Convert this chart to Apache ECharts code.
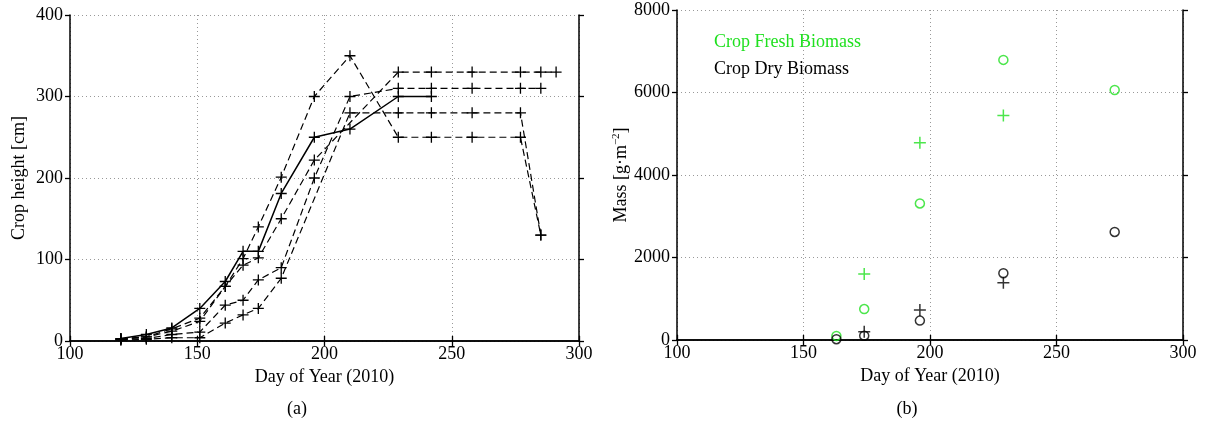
<!DOCTYPE html>
<html>
<head>
<meta charset="utf-8">
<script src="https://cdn.jsdelivr.net/npm/echarts@6/dist/echarts.min.js"></script>
<style>html,body{margin:0;padding:0;background:#fff;}#c{width:1216px;height:423px;}</style>
</head>
<body>
<div id="c"></div>
<script>
// ---- Panel (a): crop height [cm] vs day of year ----
const daysA = [120,130,140,151,161,168,174,183,196,210,229,242,258,277,285];
const hA    = [3,5,15,28,67,101,140,201,300,350,250,250,250,250,130];
const daysB = [120,130,140,151,161,168,174,183,196,210,229,242];
const hB    = [3,8,16,40,73,110,110,181,250,260,300,300];
const daysC = [120,130,140,151,161,168,174,183,196,229,242,258,277,285,291];
const hC    = [2,5,12,24,67,93,102,150,222,330,330,330,330,330,330];
const daysD = [120,130,140,151,161,168,174,183,196,210,229,242,258,277,285];
const hD    = [2,3,8,11,44,50,75,90,200,300,310,310,310,310,310];
const daysE = [120,130,140,151,161,168,174,183,210,229,242,258,277,285];
const hE    = [1,2,4,4,22,32,40,77,280,280,280,280,280,130];

// ---- Panel (b): biomass [g m-2] vs day of year ----
const freshObsDays = [163,174,196,229,273];
const freshObs     = [100,750,3310,6790,6060];
const freshSimDays = [174,196,229];
const freshSim     = [1600,4780,5440];
const dryObsDays   = [163,174,196,229,273];
const dryObs       = [20,105,470,1620,2620];
const drySimDays   = [174,196,229];
const drySim       = [200,730,1390];

const FONT = 'Liberation Serif';
const GREEN = '#1fe01f';
const pts = (xs, ys) => xs.map((x, i) => [x, ys[i]]);
const PLUS = 'path://M0,5L10,5M5,0L5,10';

const txt = {fontFamily: FONT, fontSize: 18, color: '#000'};
const axLine = {show: true, lineStyle: {color: '#000', width: 1.5}};
const tick = {show: true, inside: false, length: 5, lineStyle: {color: '#000', width: 1.3}};
const split = {show: true, lineStyle: {color: '#999', type: [1, 3], width: 1}};
const plain = v => String(v);

function xMain(grid, name) {
  return {type: 'value', gridIndex: grid, min: 100, max: 300, interval: 50, position: 'bottom',
    axisLine: axLine, axisTick: tick, splitLine: split,
    axisLabel: Object.assign({margin: 4, formatter: plain}, txt),
    name: name, nameLocation: 'middle', nameGap: 24, nameTextStyle: txt};
}
function xTop(grid) {
  return {type: 'value', gridIndex: grid, min: 100, max: 300, interval: 50, position: 'top',
    axisLine: axLine, axisTick: tick, splitLine: {show: false}, axisLabel: {show: false}};
}
function yMain(grid, max, interval, name, nameGap, rich) {
  return {type: 'value', gridIndex: grid, min: 0, max: max, interval: interval, position: 'left',
    axisLine: axLine, axisTick: tick, splitLine: split,
    axisLabel: Object.assign({margin: 7, formatter: plain}, txt),
    name: name, nameLocation: 'middle', nameGap: nameGap,
    nameTextStyle: Object.assign({rich: rich || {}}, txt)};
}
function yRight(grid, max, interval) {
  return {type: 'value', gridIndex: grid, min: 0, max: max, interval: interval, position: 'right',
    axisLine: axLine, axisTick: tick, splitLine: {show: false}, axisLabel: {show: false}};
}

function heightLine(xs, ys, solid) {
  return {type: 'line', xAxisIndex: 0, yAxisIndex: 0, data: pts(xs, ys),
    symbol: PLUS, symbolSize: 11, showSymbol: true,
    itemStyle: {color: '#000', borderColor: '#000', borderWidth: 1.3},
    lineStyle: {color: '#000', width: solid ? 1.5 : 1.2, type: solid ? 'solid' : [7, 4]},
    animation: false, z: 3};
}
function scat(xs, ys, color, plus) {
  return {type: 'scatter', xAxisIndex: 2, yAxisIndex: 2, data: pts(xs, ys),
    symbol: plus ? PLUS : 'circle', symbolSize: plus ? 12 : 9,
    itemStyle: plus ? {color: color, borderColor: color, borderWidth: 1.5}
                    : {color: 'rgba(0,0,0,0)', borderColor: color, borderWidth: 1.5},
    animation: false, z: 3};
}

const chart = echarts.init(document.getElementById('c'), null, {renderer: 'canvas'});
chart.setOption({
  backgroundColor: '#fff',
  animation: false,
  grid: [
    {left: 70, top: 15, width: 509, height: 326},
    {left: 677, top: 10, width: 506, height: 330}
  ],
  xAxis: [xMain(0, 'Day of Year (2010)'), xTop(0), xMain(1, 'Day of Year (2010)'), xTop(1)],
  yAxis: [
    yMain(0, 400, 100, 'Crop height [cm]', 42),
    yRight(0, 400, 100),
    yMain(1, 8000, 2000, '{n|Mass [g·m}{s|−2}{n|]}', 41,
      {n: {fontFamily: FONT, fontSize: 18, color: '#000'},
       s: {fontFamily: FONT, fontSize: 11, color: '#000', padding: [0, 0, 9, 0]}}),
    yRight(1, 8000, 2000)
  ],
  graphic: [
    {type: 'text', left: 714, top: 33, style: {text: 'Crop Fresh Biomass', font: '18px "Liberation Serif"', fill: GREEN}},
    {type: 'text', left: 714, top: 60, style: {text: 'Crop Dry Biomass', font: '18px "Liberation Serif"', fill: '#000'}},
    {type: 'text', x: 297, y: 409, style: {text: '(a)', font: '18px "Liberation Serif"', fill: '#000', align: 'center', verticalAlign: 'middle'}},
    {type: 'text', x: 907, y: 409, style: {text: '(b)', font: '18px "Liberation Serif"', fill: '#000', align: 'center', verticalAlign: 'middle'}}
  ],
  series: [
    heightLine(daysA, hA, false),
    heightLine(daysB, hB, true),
    heightLine(daysC, hC, false),
    heightLine(daysD, hD, false),
    heightLine(daysE, hE, false),
    scat(freshObsDays, freshObs, GREEN, false),
    scat(freshSimDays, freshSim, GREEN, true),
    scat(dryObsDays, dryObs, '#000', false),
    scat(drySimDays, drySim, '#000', true)
  ]
});
</script>
</body>
</html>
